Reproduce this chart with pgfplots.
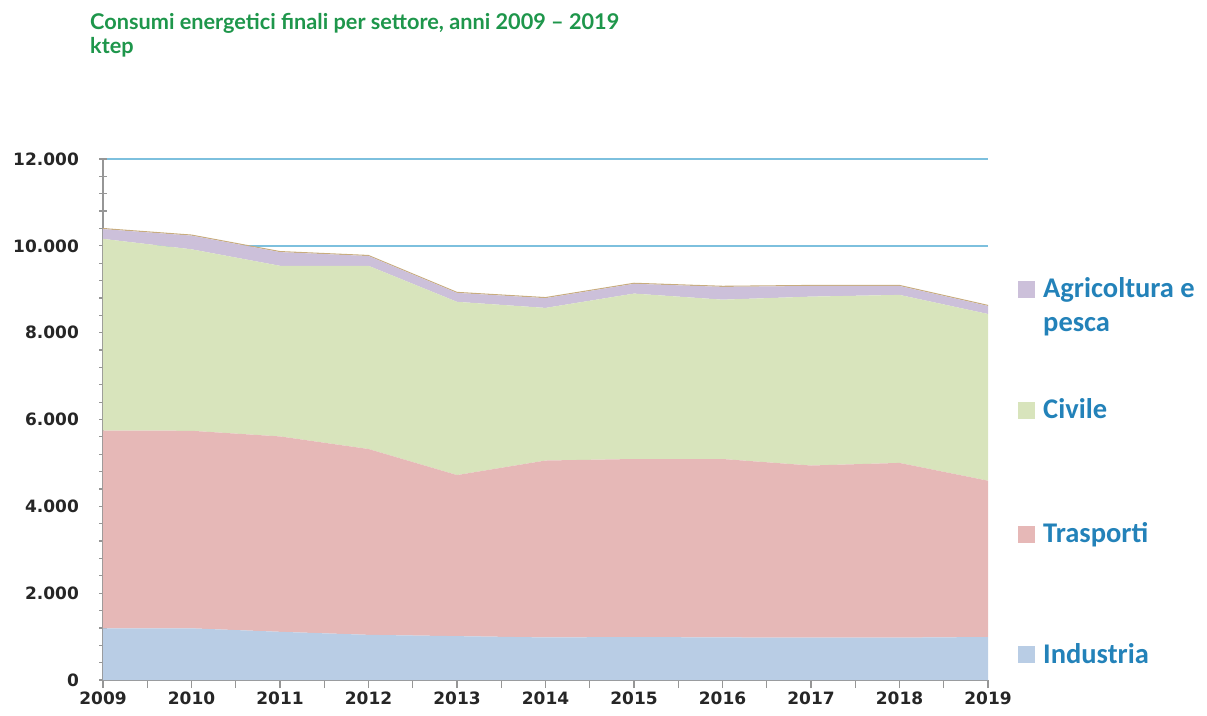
\documentclass[border=0pt]{standalone}
\usepackage{fontspec}
\usepackage{pgfplots}
\pgfplotsset{compat=1.18}
\newfontfamily\tickfont{DejaVu Sans}
\newfontfamily\titlefont{Lato}
\newfontfamily\legfont{Carlito}
\definecolor{cInd}{RGB}{185,205,229}
\definecolor{cTra}{RGB}{230,184,183}
\definecolor{cCiv}{RGB}{216,228,188}
\definecolor{cAgr}{RGB}{204,192,218}
\definecolor{cAlt}{RGB}{200,172,125}
\definecolor{cGrid}{RGB}{125,192,222}
\definecolor{cTitle}{RGB}{30,150,75}
\definecolor{cLeg}{RGB}{35,130,185}
\definecolor{cAxis}{RGB}{150,150,150}
\begin{document}
\begin{tikzpicture}
\path[use as bounding box] (0pt,0pt) rectangle (1207pt,715pt);
\begin{axis}[
  at={(103pt,35pt)}, anchor=south west,
  scale only axis, width=885pt, height=521pt,
  xmin=2009, xmax=2019, ymin=0, ymax=12000,
  scaled y ticks=false, scaled x ticks=false,
  axis x line*=bottom, axis y line*=left,
  axis line style={cAxis, line width=1.3pt},
  xtick={2009,2010,2011,2012,2013,2014,2015,2016,2017,2018,2019},
  xticklabels={2009,2010,2011,2012,2013,2014,2015,2016,2017,2018,2019},
  minor x tick num=1,
  ytick={0,2000,4000,6000,8000,10000,12000},
  yticklabels={0,2.000,4.000,6.000,8.000,10.000,12.000},
  minor y tick num=4,
  tick style={cAxis, line width=1.2pt},
  major tick length=8pt, minor tick length=8pt,
  xtick align=outside, ytick align=center,
  ymajorgrids, grid style={cGrid, line width=2pt},
  every tick label/.append style={font=\tickfont\bfseries\fontsize{17}{20}\selectfont, text=black!85},
  yticklabel style={inner sep=0pt, xshift=-20pt},
  xticklabel style={inner sep=0pt, yshift=-4pt},
  stack plots=y,
  clip=false,
]
\addplot[fill=cInd, draw=none] coordinates {(2009,1190) (2010,1190) (2011,1110) (2012,1040) (2013,1010) (2014,980) (2015,990) (2016,980) (2017,975) (2018,975) (2019,990)} \closedcycle;
\addplot[fill=cTra, draw=none] coordinates {(2009,4555) (2010,4550) (2011,4500) (2012,4280) (2013,3710) (2014,4075) (2015,4100) (2016,4110) (2017,3965) (2018,4025) (2019,3600)} \closedcycle;
\addplot[fill=cCiv, draw=none] coordinates {(2009,4415) (2010,4180) (2011,3930) (2012,4220) (2013,3990) (2014,3515) (2015,3810) (2016,3670) (2017,3890) (2018,3870) (2019,3840)} \closedcycle;
\addplot[fill=cAgr, draw=none] coordinates {(2009,225) (2010,315) (2011,315) (2012,225) (2013,205) (2014,225) (2015,225) (2016,295) (2017,245) (2018,205) (2019,185)} \closedcycle;
\addplot[fill=cAlt, draw=none] coordinates {(2009,25) (2010,25) (2011,25) (2012,25) (2013,25) (2014,25) (2015,25) (2016,25) (2017,25) (2018,25) (2019,25)} \closedcycle;
\end{axis}
% titles
\node[anchor=base west, inner sep=0pt, text=cTitle, font=\titlefont\bfseries\fontsize{21.7}{24}\selectfont] at (90pt,685pt) {Consumi energetici finali per settore, anni 2009 – 2019};
\node[anchor=base west, inner sep=0pt, text=cTitle, font=\titlefont\bfseries\fontsize{21.7}{24}\selectfont] at (90pt,661pt) {ktep};
% legend
\begin{scope}[every node/.style={anchor=base west, inner sep=0pt, text=cLeg, font=\legfont\bfseries\fontsize{28.5}{32}\selectfont}]
\fill[cAgr] (1018pt,417pt) rectangle (1035pt,434pt);
\node at (1043pt,417pt) {Agricoltura e};
\node at (1043pt,383pt) {pesca};
\fill[cCiv] (1018pt,296pt) rectangle (1035pt,313pt);
\node at (1043pt,296pt) {Civile};
\fill[cTra] (1018pt,172pt) rectangle (1035pt,189pt);
\node at (1043pt,172pt) {Trasporti};
\fill[cInd] (1018pt,52pt) rectangle (1035pt,69pt);
\node at (1043pt,52pt) {Industria};
\end{scope}
\end{tikzpicture}
\end{document}
